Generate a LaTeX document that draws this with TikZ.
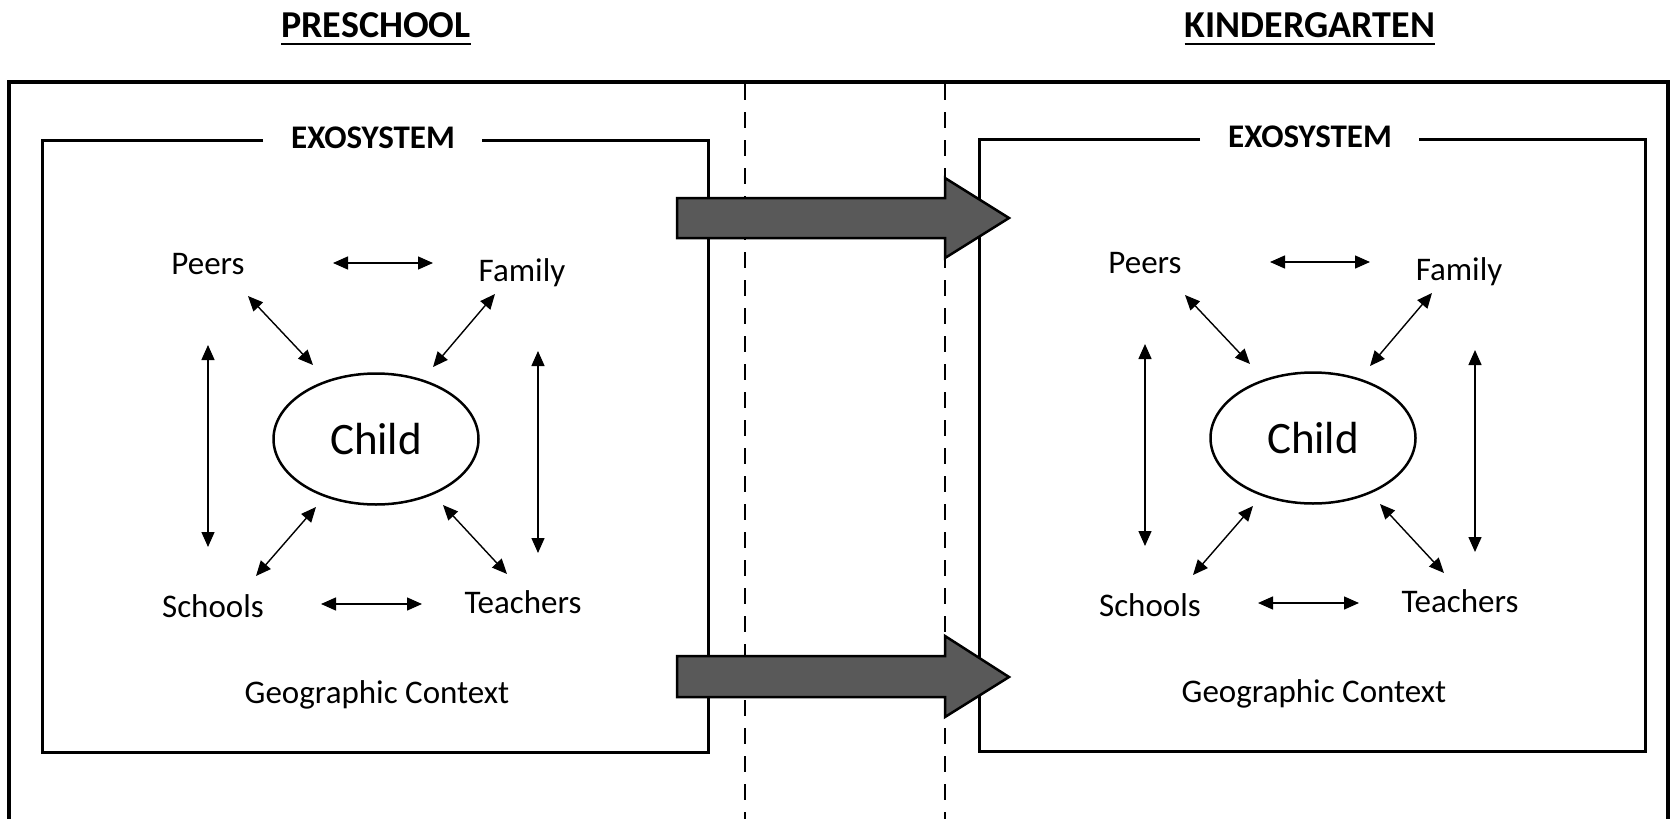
\documentclass[tikz,border=0pt]{standalone}
\usepackage{fontspec}
\setmainfont{Carlito}
\usetikzlibrary{arrows.meta,shapes.geometric}
\definecolor{arrowgray}{RGB}{89,89,89}
\tikzset{
  frameline/.style={line width=3.5pt, line join=miter},
  boxline/.style={line width=3pt, line join=miter},
  dashline/.style={line width=2.5pt, dash pattern=on 16pt off 12pt},
  biarrow/.style={line width=1.4pt, {Triangle[length=15pt,width=13pt]}-{Triangle[length=15pt,width=13pt]}},
  lbl/.style={font=\fontsize{33}{40}\selectfont, inner sep=0pt, anchor=base},
  exo/.style={font=\bfseries\fontsize{33}{40}\selectfont, inner sep=0pt, anchor=base},
  heading/.style={font=\bfseries\fontsize{38}{46}\selectfont, inner sep=0pt, anchor=base},
  childnode/.style={draw, ellipse, line width=2.5pt, minimum width=205pt, minimum height=131pt, inner sep=0pt, font=\fontsize{45}{54}\selectfont},
  bigarrow/.style={draw=black, line width=2.5pt, fill=arrowgray, line join=miter},
  panel/.pic={
    \draw[boxline] (263,140) -- (42,140) -- (42,752) -- (708,752) -- (708,140) -- (482,140);
    \node[exo] (-exo) at (373,148) {EXOSYSTEM};
    \node[lbl] (-peers) at (208,274) {Peers};
    \node[lbl] (-family) at (522,281) {Family};
    \node[lbl] (-schools) at (213,617) {Schools};
    \node[lbl] (-teachers) at (523,613) {Teachers};
    \node[lbl] (-geo) at (377,703) {Geographic Context};
    \node[childnode] (-child) at (376,439) {Child};
    \coordinate (-pf1) at (333,263);
    \coordinate (-pf2) at (433,263);
    \coordinate (-pc1) at (248,296);
    \coordinate (-pc2) at (313,365);
    \coordinate (-fc1) at (495,294);
    \coordinate (-fc2) at (433,367);
    \coordinate (-ps1) at (208,345);
    \coordinate (-ps2) at (208,547);
    \coordinate (-ft1) at (538,351);
    \coordinate (-ft2) at (538,553);
    \coordinate (-sc1) at (316,507);
    \coordinate (-sc2) at (256,576);
    \coordinate (-tc1) at (443,505);
    \coordinate (-tc2) at (507,574);
    \coordinate (-st1) at (321,604);
    \coordinate (-st2) at (422,604);
    \draw[biarrow] (-pf1) -- (-pf2);
    \draw[biarrow] (-pc1) -- (-pc2);
    \draw[biarrow] (-fc1) -- (-fc2);
    \draw[biarrow] (-ps1) -- (-ps2);
    \draw[biarrow] (-ft1) -- (-ft2);
    \draw[biarrow] (-sc1) -- (-sc2);
    \draw[biarrow] (-tc1) -- (-tc2);
    \draw[biarrow] (-st1) -- (-st2);
  }
}
\begin{document}
\begin{tikzpicture}[x=1pt,y=-1pt]
  \useasboundingbox (0,0) rectangle (1671,819);
  % headings
  \node[heading] (pre) at (376,37) {PRESCHOOL};
  \node[heading] (kg) at (1310,37) {KINDERGARTEN};
  \draw[line width=2pt] ([yshift=-7pt]pre.base west) -- ([yshift=-7pt]pre.base east);
  \draw[line width=2pt] ([yshift=-7pt]kg.base west) -- ([yshift=-7pt]kg.base east);
  % outer frame
  \draw[frameline] (9,830) -- (9,82) -- (1668,82) -- (1668,830);
  % dashed transition lines
  \draw[dashline] (745,84) -- (745,830);
  \draw[dashline] (945,84) -- (945,830);
  % panels
  \pic (L) at (0,0) {panel};
  \pic (R) at (937,-1) {panel};
  % transition arrows
  \draw[bigarrow] (677,198) -- (945,198) -- (945,178) -- (1009,218) -- (945,258) -- (945,238) -- (677,238) -- cycle;
  \draw[bigarrow] (677,656) -- (945,656) -- (945,636) -- (1009,677) -- (945,717) -- (945,697) -- (677,697) -- cycle;
\end{tikzpicture}
\end{document}
